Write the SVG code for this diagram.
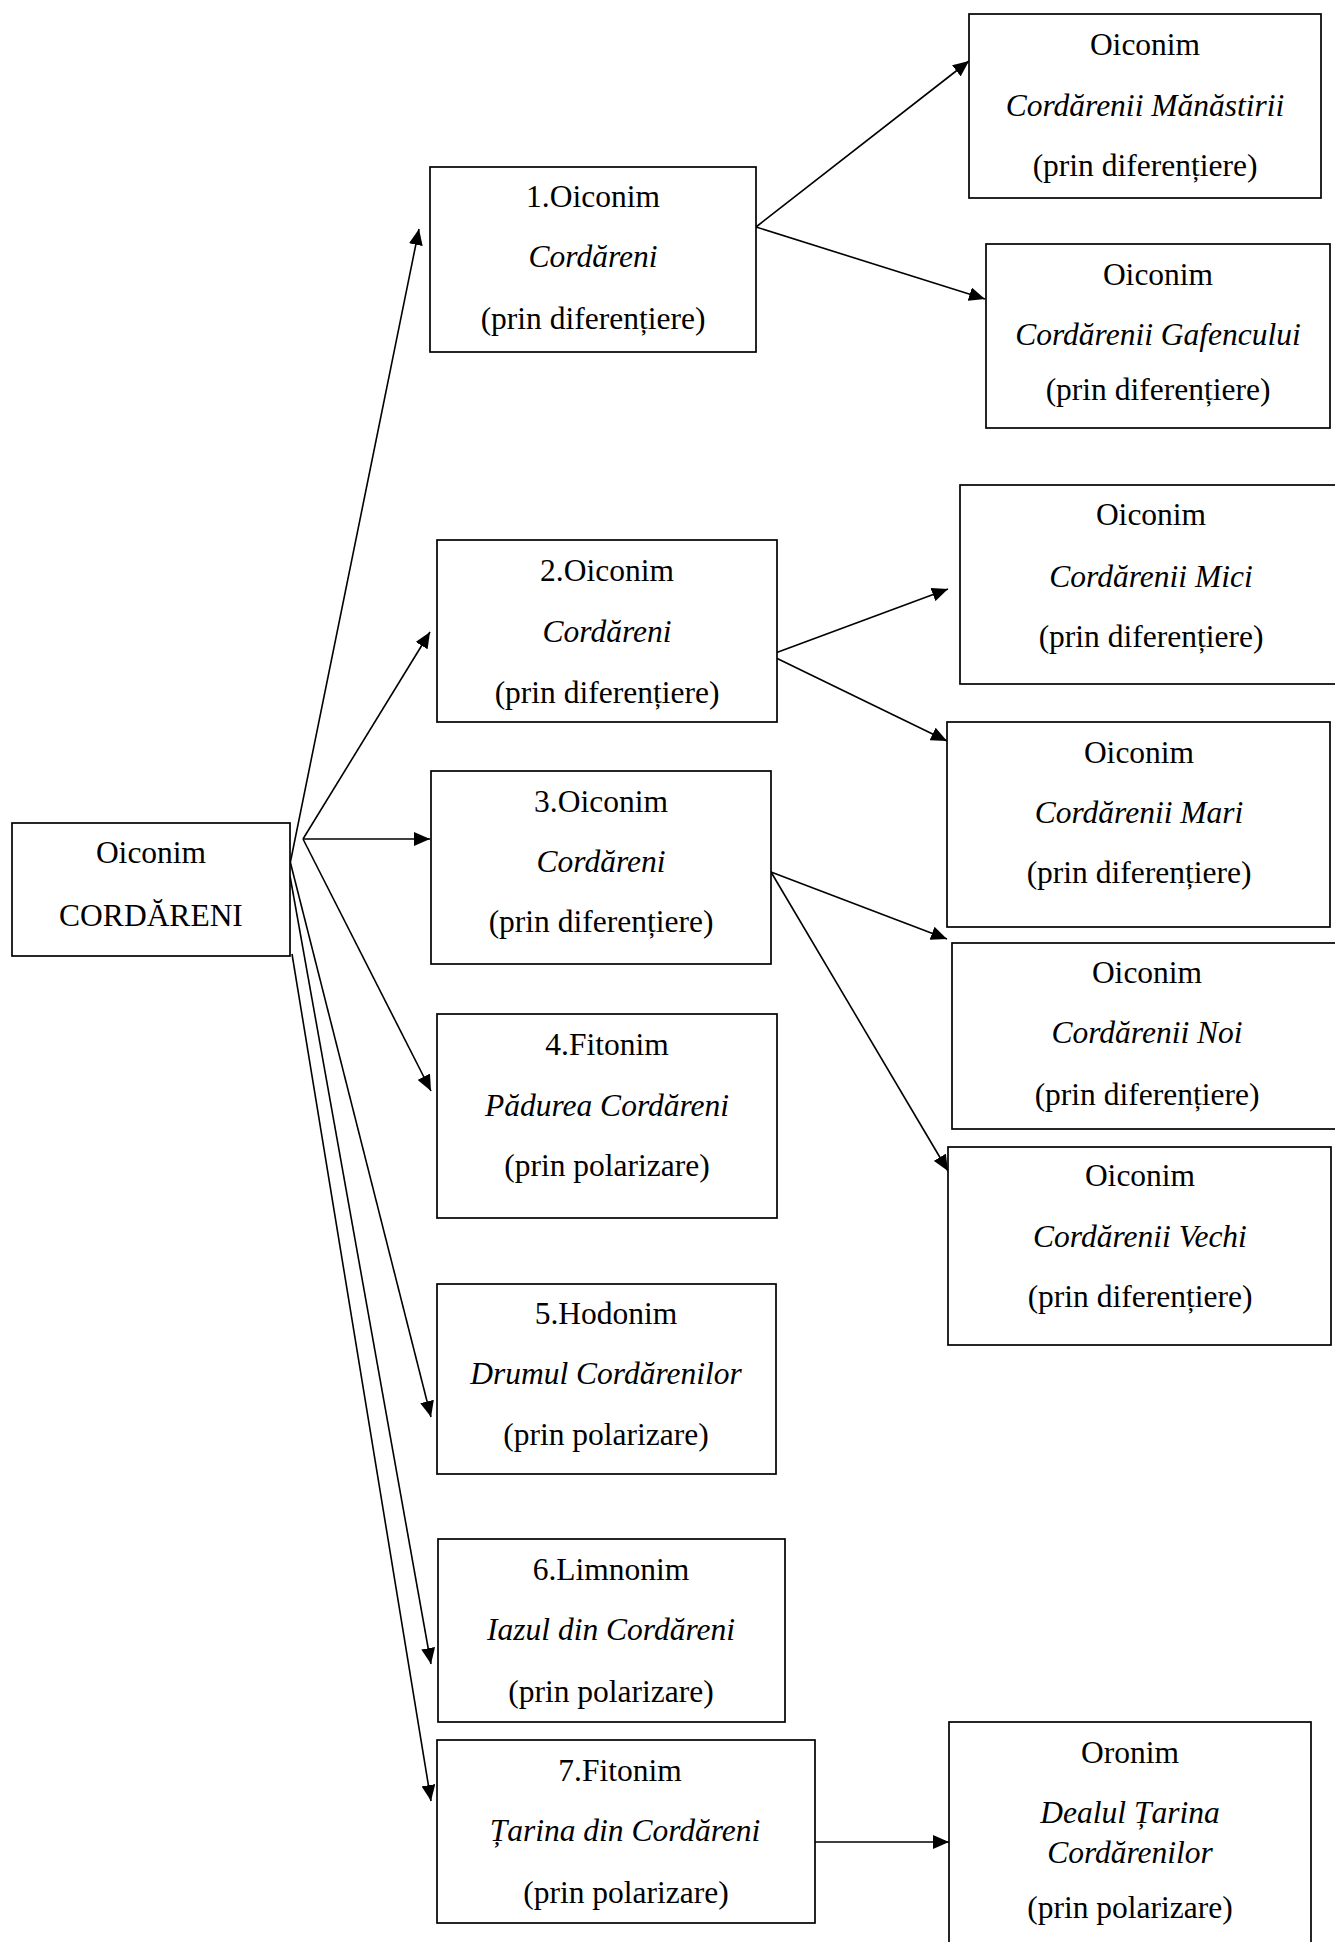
<svg xmlns="http://www.w3.org/2000/svg" width="1335" height="1942" viewBox="0 0 1335 1942">
<style>
.box{fill:#fff;stroke:#000;stroke-width:1.7}
.t{font-family:"Liberation Serif","Times New Roman",serif;font-size:31.5px;fill:#000;text-anchor:middle}
.i{font-style:italic}
.c line{stroke:#000;stroke-width:1.6;marker-end:url(#ah)}
</style>
<defs>
<marker id="ah" viewBox="0 0 16 14" refX="16" refY="7" markerWidth="16" markerHeight="14" orient="auto" markerUnits="userSpaceOnUse">
<path d="M0,0 L16,7 L0,14 Z" fill="#000"/>
</marker>
</defs>
<rect width="1335" height="1942" fill="#fff"/>
<g id="connectors" class="c">
<line x1="290" y1="864" x2="419" y2="229"/>
<line x1="303" y1="839" x2="430" y2="632"/>
<line x1="303" y1="839" x2="430" y2="839"/>
<line x1="303" y1="839" x2="431" y2="1091"/>
<line x1="290" y1="861" x2="431" y2="1417"/>
<line x1="290" y1="876" x2="431" y2="1664"/>
<line x1="292" y1="954" x2="431" y2="1801"/>
<line x1="756" y1="227" x2="969" y2="61"/>
<line x1="756" y1="227" x2="985" y2="299"/>
<line x1="770" y1="655" x2="948" y2="589"/>
<line x1="770" y1="655" x2="947" y2="741"/>
<line x1="771" y1="872" x2="947" y2="939"/>
<line x1="771" y1="872" x2="948" y2="1171"/>
<line x1="815" y1="1842" x2="949" y2="1842"/>
</g>
<g id="main">
<rect class="box" x="12" y="823" width="278" height="133"/>
<text class="t" x="151" y="863">Oiconim</text>
<text class="t" x="151" y="926">CORDĂRENI</text>
</g>
<g id="n1">
<rect class="box" x="430" y="167" width="326" height="185"/>
<text class="t" x="593" y="207">1.Oiconim</text>
<text class="t i" x="593" y="267">Cordăreni</text>
<text class="t" x="593" y="329">(prin diferențiere)</text>
</g>
<g id="n2">
<rect class="box" x="437" y="540" width="340" height="182"/>
<text class="t" x="607" y="581">2.Oiconim</text>
<text class="t i" x="607" y="642">Cordăreni</text>
<text class="t" x="607" y="703">(prin diferențiere)</text>
</g>
<g id="n3">
<rect class="box" x="431" y="771" width="340" height="193"/>
<text class="t" x="601" y="812">3.Oiconim</text>
<text class="t i" x="601" y="872">Cordăreni</text>
<text class="t" x="601" y="932">(prin diferențiere)</text>
</g>
<g id="n4">
<rect class="box" x="437" y="1014" width="340" height="204"/>
<text class="t" x="607" y="1055">4.Fitonim</text>
<text class="t i" x="607" y="1116">Pădurea Cordăreni</text>
<text class="t" x="607" y="1176">(prin polarizare)</text>
</g>
<g id="n5">
<rect class="box" x="437" y="1284" width="339" height="190"/>
<text class="t" x="606" y="1324">5.Hodonim</text>
<text class="t i" x="606" y="1384">Drumul Cordărenilor</text>
<text class="t" x="606" y="1445">(prin polarizare)</text>
</g>
<g id="n6">
<rect class="box" x="438" y="1539" width="347" height="183"/>
<text class="t" x="611" y="1580">6.Limnonim</text>
<text class="t i" x="611" y="1640">Iazul din Cordăreni</text>
<text class="t" x="611" y="1702">(prin polarizare)</text>
</g>
<g id="n7">
<rect class="box" x="437" y="1740" width="378" height="183"/>
<text class="t" x="620" y="1781">7.Fitonim</text>
<text class="t i" x="625" y="1841">Țarina din Cordăreni</text>
<text class="t" x="626" y="1903">(prin polarizare)</text>
</g>
<g id="manastirii">
<rect class="box" x="969" y="14" width="352" height="184"/>
<text class="t" x="1145" y="55">Oiconim</text>
<text class="t i" x="1145" y="116">Cordărenii Mănăstirii</text>
<text class="t" x="1145" y="176">(prin diferențiere)</text>
</g>
<g id="gafencului">
<rect class="box" x="986" y="244" width="344" height="184"/>
<text class="t" x="1158" y="285">Oiconim</text>
<text class="t i" x="1158" y="345">Cordărenii Gafencului</text>
<text class="t" x="1158" y="400">(prin diferențiere)</text>
</g>
<g id="mici">
<rect class="box" x="960" y="485" width="382" height="199"/>
<text class="t" x="1151" y="525">Oiconim</text>
<text class="t i" x="1151" y="587">Cordărenii Mici</text>
<text class="t" x="1151" y="647">(prin diferențiere)</text>
</g>
<g id="mari">
<rect class="box" x="947" y="722" width="383" height="205"/>
<text class="t" x="1139" y="763">Oiconim</text>
<text class="t i" x="1139" y="823">Cordărenii Mari</text>
<text class="t" x="1139" y="883">(prin diferențiere)</text>
</g>
<g id="noi">
<rect class="box" x="952" y="943" width="390" height="186"/>
<text class="t" x="1147" y="983">Oiconim</text>
<text class="t i" x="1147" y="1043">Cordărenii Noi</text>
<text class="t" x="1147" y="1105">(prin diferențiere)</text>
</g>
<g id="vechi">
<rect class="box" x="948" y="1147" width="383" height="198"/>
<text class="t" x="1140" y="1186">Oiconim</text>
<text class="t i" x="1140" y="1247">Cordărenii Vechi</text>
<text class="t" x="1140" y="1307">(prin diferențiere)</text>
</g>
<g id="oronim">
<rect class="box" x="949" y="1722" width="362" height="240"/>
<text class="t" x="1130" y="1763">Oronim</text>
<text class="t i" x="1130" y="1823">Dealul Țarina</text>
<text class="t i" x="1130" y="1863">Cordărenilor</text>
<text class="t" x="1130" y="1918">(prin polarizare)</text>
</g>
</svg>
